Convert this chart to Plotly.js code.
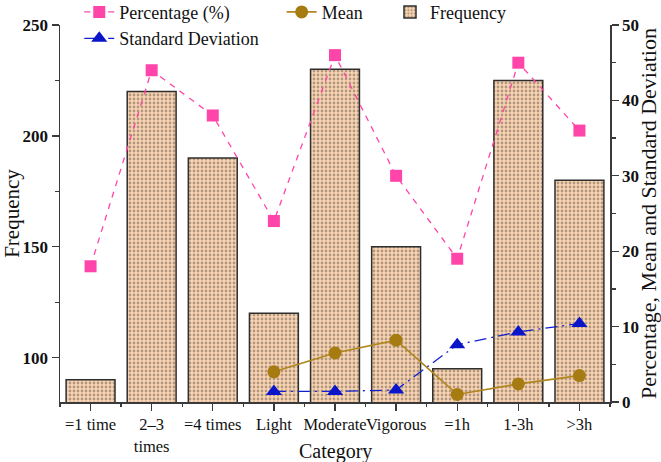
<!DOCTYPE html>
<html>
<head>
<meta charset="utf-8">
<script src="https://cdn.plot.ly/plotly-3.0.1.min.js"></script>
<style>html,body{margin:0;padding:0;background:#fff;}#chart{width:661px;height:462px;}</style>
</head>
<body>
<div id="chart"></div>
<script>
const categories = ['=1 time', '2–3<br>times', '=4 times', 'Light', 'Moderate', 'Vigorous', '=1h', '1-3h', '>3h'];
const frequency = [90, 220, 190, 120, 230, 150, 95, 225, 180];
const percentage = [18, 44, 38, 24, 46, 30, 19, 45, 36];
const meanValues = [null, null, null, 4.0, 6.5, 8.2, 1.0, 2.4, 3.5];
const sdValues = [null, null, null, 1.4, 1.4, 1.6, 7.6, 9.3, 10.4];

const serif = 'Liberation Serif, Times New Roman, serif';
const axisColor = '#3a3a3a';

const traces = [
  {
    type: 'bar', name: 'Frequency', x: categories, y: frequency,
    xaxis: 'x', yaxis: 'y', width: 0.8, legend: 'legend3',
    marker: {
      color: '#f9d4b2',
      line: {color: '#2e2e2e', width: 1.5},
      pattern: {shape: '.', fgcolor: '#6a5a4e', bgcolor: '#f9d4b2', size: 4, solidity: 0.38, fillmode: 'overlay'}
    }
  },
  {
    type: 'scatter', mode: 'lines+markers', name: 'Percentage (%)',
    x: categories, y: percentage, xaxis: 'x2', yaxis: 'y2', legend: 'legend', legendrank: 1,
    line: {color: '#ff44aa', width: 1.3, dash: '6px,6px'},
    marker: {symbol: 'square', size: 12, color: '#ff44aa'}
  },
  {
    type: 'scatter', mode: 'lines+markers', name: 'Standard Deviation',
    x: categories, y: sdValues, xaxis: 'x2', yaxis: 'y2', legend: 'legend', legendrank: 2,
    line: {color: '#1020d0', width: 1.3, dash: '12px,5px,2px,5px'},
    marker: {symbol: 'triangle-up', size: 14, color: '#0a14c8'}
  },
  {
    type: 'scatter', mode: 'lines+markers', name: 'Mean',
    x: categories, y: meanValues, xaxis: 'x2', yaxis: 'y2', legend: 'legend2',
    line: {color: '#b0861e', width: 1.6},
    marker: {symbol: 'circle', size: 13, color: '#a67c12'}
  }
];

const legendBase = {
  xanchor: 'left', yanchor: 'top', bgcolor: 'rgba(0,0,0,0)',
  font: {family: serif, size: 18, color: '#111'}, traceorder: 'normal', tracegroupgap: 0
};

const layout = {
  width: 661, height: 462,
  margin: {l: 60, r: 51, t: 25, b: 60, autoexpand: false},
  paper_bgcolor: '#fff', plot_bgcolor: 'rgba(0,0,0,0)',
  font: {family: serif, size: 17, color: '#111'},
  showlegend: true,
  legend: Object.assign({}, legendBase, {x: 0.035, y: 1.083, orientation: 'v'}),
  legend2: Object.assign({}, legendBase, {x: 0.403, y: 1.083, orientation: 'h'}),
  legend3: Object.assign({}, legendBase, {x: 0.6, y: 1.083, orientation: 'h'}),
  xaxis: {
    type: 'category', categoryorder: 'array', categoryarray: categories,
    range: [-0.5, 8.5], domain: [0, 1], tickangle: 0,
    showline: true, linecolor: axisColor, linewidth: 1.5, mirror: false,
    ticks: 'outside', ticklen: 7, tickwidth: 1.3, tickcolor: axisColor,
    showgrid: false, zeroline: false,
    tickfont: {family: serif, size: 16.5, color: '#111'},
    anchor: 'y'
  },
  xaxis2: {
    type: 'category', categoryorder: 'array', categoryarray: categories,
    range: [-0.5, 8.5], overlaying: 'x', anchor: 'y2', side: 'bottom',
    tickson: 'boundaries', ticks: 'outside', ticklen: 4, tickwidth: 1.3, tickcolor: axisColor,
    showticklabels: false, showgrid: false, showline: false, zeroline: false
  },
  yaxis: {
    range: [80, 250], tickvals: [100, 150, 200, 250],
    showline: true, linecolor: axisColor, linewidth: 1.5,
    ticks: 'outside', ticklen: 7, tickwidth: 1.3, tickcolor: axisColor,
    minor: {tickvals: [125, 175, 225], ticks: 'outside', ticklen: 4, tickcolor: axisColor, tickwidth: 1.3, showgrid: false},
    showgrid: false, zeroline: false,
    tickfont: {family: serif, size: 17, color: '#111', weight: 'bold'},
    title: {text: 'Frequency', font: {family: serif, size: 21, color: '#111'}, standoff: 8}
  },
  yaxis2: {
    range: [0, 50], dtick: 10, overlaying: 'y', side: 'right', anchor: 'x2',
    showline: true, linecolor: axisColor, linewidth: 1.5,
    ticks: 'outside', ticklen: 7, tickwidth: 1.3, tickcolor: axisColor,
    minor: {dtick: 5, ticks: 'outside', ticklen: 4, tickcolor: axisColor, tickwidth: 1.3, showgrid: false},
    showgrid: false, zeroline: false,
    tickfont: {family: serif, size: 17, color: '#111', weight: 'bold'},
    title: {text: 'Percentage, Mean and Standard Deviation', font: {family: serif, size: 22, color: '#111'}, standoff: 5}
  },
  annotations: [
    {text: 'Category', xref: 'paper', yref: 'paper', x: 0.5, y: -0.13,
     xanchor: 'center', yanchor: 'middle', showarrow: false,
     font: {family: serif, size: 20, color: '#111'}}
  ]
};

Plotly.newPlot('chart', traces, layout, {displayModeBar: false, staticPlot: true});
</script>
</body>
</html>
